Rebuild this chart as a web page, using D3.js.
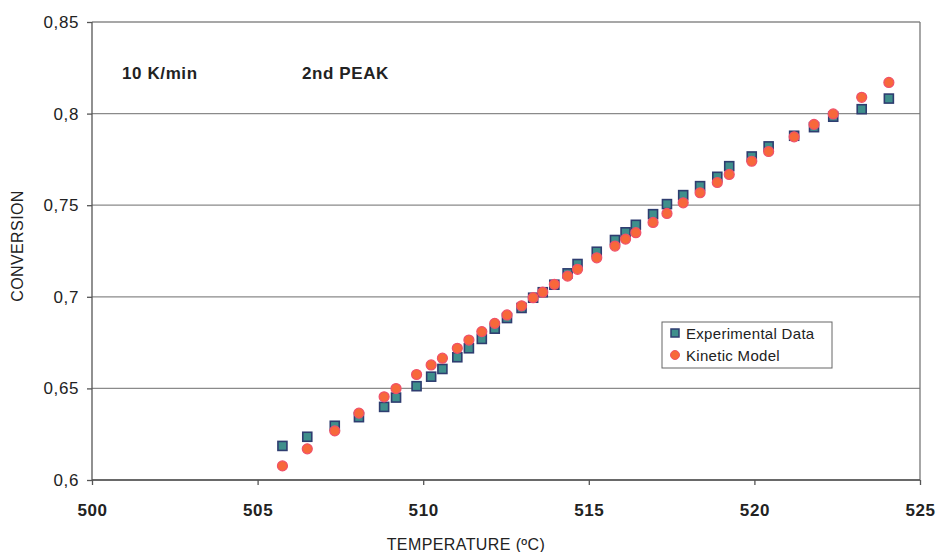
<!DOCTYPE html>
<html lang="en">
<head>
<meta charset="utf-8">
<title>Conversion vs temperature, 10 K/min, 2nd peak</title>
<script src="https://d3js.org/d3.v7.min.js"></script>
<style>
  body { margin: 0; background: #fff; font-family: "Liberation Sans", Arial, sans-serif; }
  .grid line { stroke: #8a8a8a; stroke-width: 1.3; }
  .axis path, .axis line { stroke: #555; stroke-width: 1.3; }
  .axis text { fill: #222; }
</style>
</head>
<body>
<svg id="chart" width="938" height="552"></svg>
<script>
// temperatures (ºC) shared by both series
const temps = [505.75, 506.5, 507.33, 508.06, 508.82, 509.18, 509.8, 510.24, 510.58, 511.03,
  511.38, 511.77, 512.16, 512.53, 512.97, 513.32, 513.61, 513.96, 514.36, 514.66,
  515.24, 515.79, 516.11, 516.42, 516.94, 517.36, 517.85, 518.36, 518.88, 519.24,
  519.92, 520.43, 521.2, 521.8, 522.38, 523.24, 524.06];

const experimental = [0.6186, 0.6236, 0.6296, 0.6343, 0.6399, 0.645, 0.6512, 0.6564, 0.6606, 0.667,
  0.6719, 0.677, 0.6826, 0.6884, 0.6939, 0.6995, 0.7025, 0.7066, 0.7128, 0.7179,
  0.7246, 0.731, 0.7352, 0.7393, 0.7451, 0.7506, 0.7555, 0.7604, 0.7655, 0.7713,
  0.7766, 0.7821, 0.7879, 0.7926, 0.7983, 0.8024, 0.8082];

const kinetic = [0.6077, 0.617, 0.6268, 0.6365, 0.6454, 0.6499, 0.6576, 0.6628, 0.6665, 0.6719,
  0.6764, 0.681, 0.6855, 0.6901, 0.6951, 0.6995, 0.7025, 0.7068, 0.7113, 0.715,
  0.7213, 0.7277, 0.7315, 0.735, 0.7406, 0.7455, 0.7513, 0.7568, 0.7624, 0.7668,
  0.774, 0.7793, 0.7873, 0.7941, 0.7998, 0.8089, 0.817];

const xTicks = [500, 505, 510, 515, 520, 525];
const yTicks = [0.6, 0.65, 0.7, 0.75, 0.8, 0.85];

const margin = { top: 22, right: 18, bottom: 72, left: 92 };
const width = 938 - margin.left - margin.right,
      height = 552 - margin.top - margin.bottom;

const svg = d3.select("#chart").append("g")
  .attr("transform", `translate(${margin.left},${margin.top})`);

const x = d3.scaleLinear().domain([500, 525]).range([0, width]);
const y = d3.scaleLinear().domain([0.6, 0.85]).range([height, 0]);
const fmt = d => d3.format(".2~f")(d).replace(".", ",");

// horizontal gridlines
svg.append("g").attr("class", "grid")
  .selectAll("line").data(yTicks).join("line")
  .attr("x1", 0).attr("x2", width)
  .attr("y1", d => y(d)).attr("y2", d => y(d));

// right border
svg.append("line")
  .attr("x1", width).attr("x2", width).attr("y1", 0).attr("y2", height)
  .attr("stroke", "#777").attr("stroke-width", 1.3);

// axes
svg.append("g").attr("class", "axis")
  .call(d3.axisLeft(y).tickValues(yTicks).tickFormat(fmt).tickSize(5).tickPadding(8))
  .call(g => g.selectAll("text").attr("font-size", 17).attr("letter-spacing", 0.6))
  .call(g => g.select(".domain").attr("d", `M0,${height}V0`));

svg.append("g").attr("class", "axis")
  .attr("transform", `translate(0,${height})`)
  .call(d3.axisBottom(x).tickValues(xTicks).tickFormat(d3.format("d")).tickSize(5).tickPadding(19))
  .call(g => g.selectAll("text").attr("font-size", 17).attr("font-weight", "bold").attr("letter-spacing", 0.6))
  .call(g => g.select(".domain").attr("d", `M0,0H${width}`));

// axis titles
svg.append("text")
  .attr("x", width / 2 - 40).attr("y", height + 70)
  .attr("text-anchor", "middle").attr("font-size", 16).attr("fill", "#222")
  .attr("letter-spacing", 0.4)
  .text("TEMPERATURE (ºC)");

svg.append("text")
  .attr("transform", `translate(${-69},${height / 2 - 5}) rotate(-90)`)
  .attr("text-anchor", "middle").attr("font-size", 16).attr("fill", "#222")
  .attr("letter-spacing", 0.4)
  .text("CONVERSION");

// annotations
svg.append("text").attr("x", 30).attr("y", 57)
  .attr("font-size", 17).attr("font-weight", "bold").attr("fill", "#222")
  .attr("letter-spacing", 0.6)
  .text("10 K/min");
svg.append("text").attr("x", 210).attr("y", 57)
  .attr("font-size", 17).attr("font-weight", "bold").attr("fill", "#222")
  .attr("letter-spacing", 0.6)
  .text("2nd PEAK");

const sqColor = "#3f8f8c", sqStroke = "#2e3d70";
const ciColor = "#f7683a", ciStroke = "#f0506a";

// experimental data (squares)
svg.selectAll(".exp").data(temps.map((t, i) => [t, experimental[i]])).join("rect")
  .attr("class", "exp")
  .attr("x", d => x(d[0]) - 4.5).attr("y", d => y(d[1]) - 4.5)
  .attr("width", 9).attr("height", 9)
  .attr("fill", sqColor).attr("stroke", sqStroke).attr("stroke-width", 1.6);

// kinetic model (circles)
svg.selectAll(".kin").data(temps.map((t, i) => [t, kinetic[i]])).join("circle")
  .attr("class", "kin")
  .attr("cx", d => x(d[0])).attr("cy", d => y(d[1]))
  .attr("r", 5)
  .attr("fill", ciColor).attr("stroke", ciStroke).attr("stroke-width", 1.2);

// legend
const lg = svg.append("g").attr("transform", `translate(${662 - margin.left},${322 - margin.top})`);
lg.append("rect").attr("width", 170).attr("height", 46)
  .attr("fill", "#fff").attr("stroke", "#666").attr("stroke-width", 1);
lg.append("rect").attr("x", 9).attr("y", 7).attr("width", 8).attr("height", 8)
  .attr("fill", sqColor).attr("stroke", sqStroke).attr("stroke-width", 1.5);
lg.append("text").attr("x", 24).attr("y", 16.5).attr("font-size", 15).attr("fill", "#222")
  .attr("letter-spacing", 0.3)
  .text("Experimental Data");
lg.append("circle").attr("cx", 13).attr("cy", 33).attr("r", 4.5)
  .attr("fill", ciColor).attr("stroke", ciStroke).attr("stroke-width", 1);
lg.append("text").attr("x", 24).attr("y", 38.5).attr("font-size", 15).attr("fill", "#222")
  .attr("letter-spacing", 0.3)
  .text("Kinetic Model");
</script>
</body>
</html>
